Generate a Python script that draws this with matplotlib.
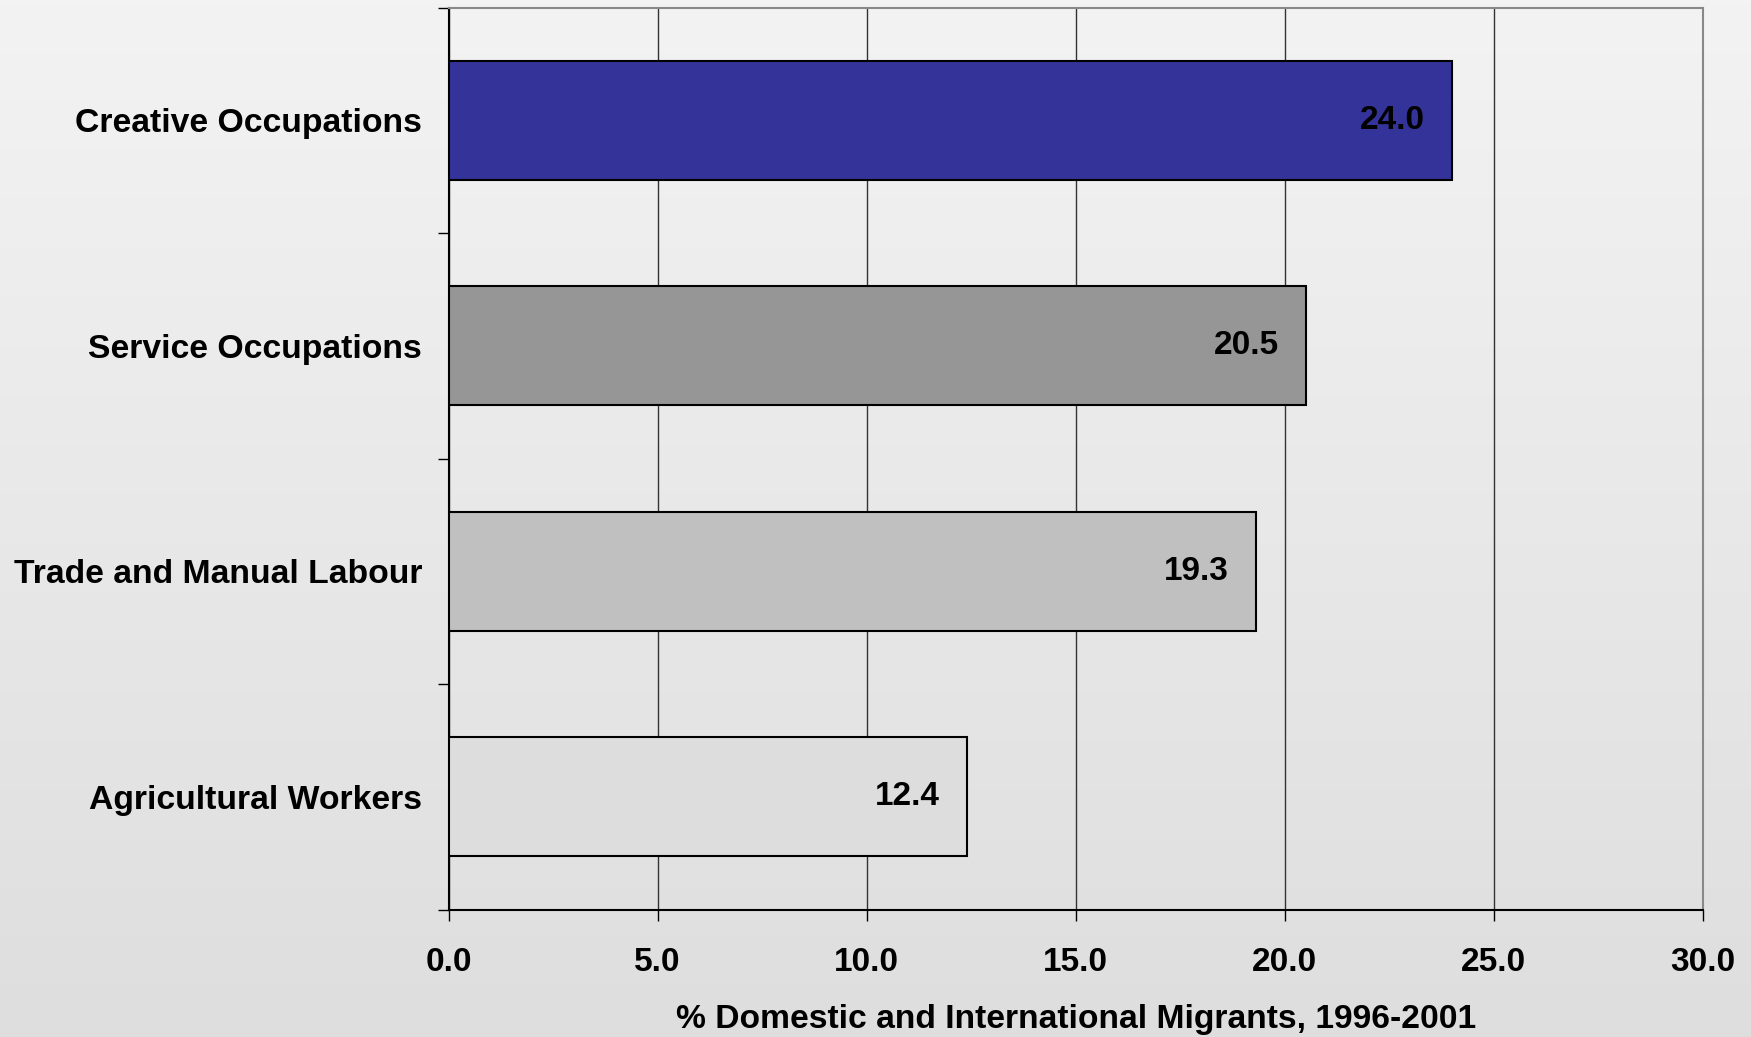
import numpy as np
import matplotlib
matplotlib.use("Agg")
import matplotlib.pyplot as plt
from matplotlib.ticker import FixedLocator

plt.rcParams['font.family'] = ['Liberation Sans', 'DejaVu Sans']
plt.rcParams['font.weight'] = 'bold'

# Data
categories = ["Creative Occupations", "Service Occupations",
              "Trade and Manual Labour", "Agricultural Workers"]
values = [24.0, 20.5, 19.3, 12.4]
bar_colors = ["#333399", "#969696", "#C0C0C0", "#DDDDDD"]
x_ticks = [0.0, 5.0, 10.0, 15.0, 20.0, 25.0, 30.0]
x_label = "% Domestic and International Migrants, 1996-2001"

W, H, DPI = 1751, 1037, 100
fig = plt.figure(figsize=(W / DPI, H / DPI), dpi=DPI)

# Vertical gradient backdrop
bg = fig.add_axes([0, 0, 1, 1], zorder=-10)
grad = np.linspace(243, 222, 256).reshape(-1, 1) / 255.0
bg.imshow(np.dstack([grad, grad, grad]), aspect='auto', extent=[0, 1, 0, 1])
bg.set_axis_off()

ax = fig.add_axes([448.5 / W, 1 - 909.5 / H, (1703 - 448.5) / W, (909.5 - 7.5) / H])
ax.set_facecolor('none')

ypos = np.arange(len(categories))
ax.barh(ypos, values, height=0.526, color=bar_colors, edgecolor='black',
        linewidth=1.5, zorder=3)

for y, v in zip(ypos, values):
    ax.annotate(f"{v:.1f}", xy=(v, y), xytext=(-19.5, 0), textcoords='offset points',
                ha='right', va='center', fontsize=24, fontweight='bold', zorder=4)

ax.set_xlim(0, 30)
ax.set_ylim(len(categories) - 0.5, -0.5)

ax.set_xticks(x_ticks)
ax.set_xticklabels([f"{t:.1f}" for t in x_ticks], fontsize=24, fontweight='bold')
ax.tick_params(axis='x', direction='out', length=8, width=1, color='black', pad=19)

# Ticks at category boundaries, labels at category centres
ax.yaxis.set_major_locator(FixedLocator(np.arange(-0.5, len(categories), 1.0)))
ax.yaxis.set_major_formatter(plt.NullFormatter())
ax.yaxis.set_minor_locator(FixedLocator(ypos))
ax.set_yticklabels(categories, minor=True, fontsize=24.3, fontweight='bold')
ax.tick_params(axis='y', which='major', direction='out', length=8, width=1, color='black')
ax.tick_params(axis='y', which='minor', length=0, pad=19)

ax.xaxis.grid(True, color='#333333', linewidth=1, zorder=0)
ax.set_axisbelow(True)

for side in ('left', 'bottom'):
    ax.spines[side].set_color('black')
    ax.spines[side].set_linewidth(1.5)
for side in ('top', 'right'):
    ax.spines[side].set_color('#888888')
    ax.spines[side].set_linewidth(1.5)

ax.set_xlabel(x_label, fontsize=24.2, fontweight='bold', labelpad=19)

fig.savefig("out.png", dpi=DPI)
